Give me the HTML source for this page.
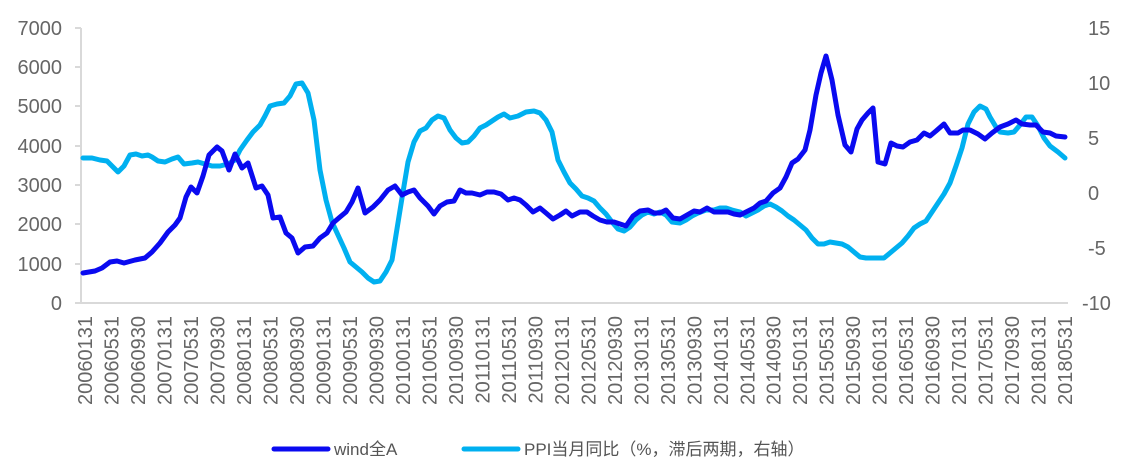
<!DOCTYPE html>
<html><head><meta charset="utf-8"><style>
html,body{margin:0;padding:0;background:#fff;}
svg{display:block;font-family:"Liberation Sans","Noto Sans CJK SC",sans-serif;}
</style></head><body>
<svg width="1122" height="465" viewBox="0 0 1122 465" xmlns="http://www.w3.org/2000/svg">
<g stroke="#d9d9d9" stroke-width="2" fill="none">
<line x1="81" y1="28" x2="81" y2="304"/>
<line x1="80" y1="303" x2="1068" y2="303"/>
<line x1="75" y1="28" x2="81" y2="28"/><line x1="75" y1="67" x2="81" y2="67"/><line x1="75" y1="106" x2="81" y2="106"/><line x1="75" y1="146" x2="81" y2="146"/><line x1="75" y1="185" x2="81" y2="185"/><line x1="75" y1="224" x2="81" y2="224"/><line x1="75" y1="264" x2="81" y2="264"/><line x1="75" y1="303" x2="81" y2="303"/>
</g>
<g fill="#666" font-size="20" text-anchor="end">
<text x="62" y="35">7000</text><text x="62" y="74">6000</text><text x="62" y="113">5000</text><text x="62" y="153">4000</text><text x="62" y="192">3000</text><text x="62" y="231">2000</text><text x="62" y="271">1000</text><text x="62" y="310">0</text>
</g>
<g fill="#666" font-size="20" text-anchor="start">
<text x="1088" y="35">15</text><text x="1088" y="90">10</text><text x="1088" y="145">5</text><text x="1088" y="200">0</text><text x="1088" y="255">-5</text><text x="1082" y="310">-10</text>
</g>
<g fill="#666" font-size="20" text-anchor="end">
<text transform="translate(92.0,316) rotate(-90)">20060131</text>
<text transform="translate(118.5,316) rotate(-90)">20060531</text>
<text transform="translate(145.0,316) rotate(-90)">20060930</text>
<text transform="translate(171.5,316) rotate(-90)">20070131</text>
<text transform="translate(198.0,316) rotate(-90)">20070531</text>
<text transform="translate(224.5,316) rotate(-90)">20070930</text>
<text transform="translate(250.9,316) rotate(-90)">20080131</text>
<text transform="translate(277.4,316) rotate(-90)">20080531</text>
<text transform="translate(303.9,316) rotate(-90)">20080930</text>
<text transform="translate(330.4,316) rotate(-90)">20090131</text>
<text transform="translate(356.9,316) rotate(-90)">20090531</text>
<text transform="translate(383.4,316) rotate(-90)">20090930</text>
<text transform="translate(409.9,316) rotate(-90)">20100131</text>
<text transform="translate(436.4,316) rotate(-90)">20100531</text>
<text transform="translate(462.9,316) rotate(-90)">20100930</text>
<text transform="translate(489.4,316) rotate(-90)">20110131</text>
<text transform="translate(515.8,316) rotate(-90)">20110531</text>
<text transform="translate(542.3,316) rotate(-90)">20110930</text>
<text transform="translate(568.8,316) rotate(-90)">20120131</text>
<text transform="translate(595.3,316) rotate(-90)">20120531</text>
<text transform="translate(621.8,316) rotate(-90)">20120930</text>
<text transform="translate(648.3,316) rotate(-90)">20130131</text>
<text transform="translate(674.8,316) rotate(-90)">20130531</text>
<text transform="translate(701.3,316) rotate(-90)">20130930</text>
<text transform="translate(727.8,316) rotate(-90)">20140131</text>
<text transform="translate(754.3,316) rotate(-90)">20140531</text>
<text transform="translate(780.7,316) rotate(-90)">20140930</text>
<text transform="translate(807.2,316) rotate(-90)">20150131</text>
<text transform="translate(833.7,316) rotate(-90)">20150531</text>
<text transform="translate(860.2,316) rotate(-90)">20150930</text>
<text transform="translate(886.7,316) rotate(-90)">20160131</text>
<text transform="translate(913.2,316) rotate(-90)">20160531</text>
<text transform="translate(939.7,316) rotate(-90)">20160930</text>
<text transform="translate(966.2,316) rotate(-90)">20170131</text>
<text transform="translate(992.7,316) rotate(-90)">20170531</text>
<text transform="translate(1019.2,316) rotate(-90)">20170930</text>
<text transform="translate(1045.6,316) rotate(-90)">20180131</text>
<text transform="translate(1072.1,316) rotate(-90)">20180531</text>
</g>
<polyline fill="none" stroke="#00b0f0" stroke-width="5" stroke-linejoin="round" stroke-linecap="round" points="83,158 92,158 100,160 107,161 113,167 118,172 124,166 130,155 136,154 142,156 148,155 152,157 158,161 165,162 172,159 178,157 184,164 192,163 198,162 205,164 212,166 220,166 228,164 235,160 240,150 247,140 253,132 260,125 265,116 270,106 277,104 284,103 290,96 296,84 302,83 308,93 314,120 320,170 326,200 332,222 338,235 344,248 350,262 356,267 362,272 368,278 374,282 380,281 386,272 392,260 396,235 402,198 408,162 414,142 420,131 426,128 432,120 438,116 444,118 450,130 456,138 462,143 468,142 474,136 480,128 486,125 492,121 498,117 504,114 510,118 518,116 526,112 534,111 540,113 546,120 552,132 558,160 564,172 570,183 576,189 582,196 588,198 594,201 600,208 606,214 612,222 618,229 624,231 630,227 636,220 642,215 648,212 654,214 660,212 666,215 672,222 680,223 686,220 692,216 698,213 706,210 714,210 720,208 726,208 732,210 740,212 746,216 752,213 758,210 764,206 770,204 776,207 782,211 788,216 794,220 800,225 806,230 812,238 818,244 824,244 830,242 836,243 842,244 848,247 854,252 860,257 866,258 872,258 878,258 884,258 890,253 896,248 902,243 908,236 914,228 920,224 926,221 932,212 938,203 944,194 950,183 956,166 962,148 968,124 974,112 980,106 986,109 990,117 996,127 1000,132 1008,133 1014,132 1020,125 1026,117 1032,117 1038,126 1044,138 1050,146 1058,152 1065,158"/>
<polyline fill="none" stroke="#0a0af0" stroke-width="5" stroke-linejoin="round" stroke-linecap="round" points="83,273 95,271 102,268 110,262 117,261 124,263 135,260 145,258 152,252 160,243 168,232 175,225 180,218 186,197 191,187 197,193 203,176 209,155 217,147 222,151 229,170 235,154 242,168 248,163 256,188 262,186 268,195 273,218 280,217 286,233 292,238 298,253 305,247 313,246 320,238 327,233 333,223 340,217 346,212 352,202 358,188 365,213 373,207 380,200 388,190 395,186 402,195 408,192 414,190 420,198 428,206 434,214 440,206 447,202 454,201 460,190 466,193 472,193 480,195 487,192 494,192 501,194 508,200 514,198 520,200 526,205 533,212 540,208 546,213 553,219 560,215 566,211 572,216 580,212 587,212 593,216 600,220 607,222 614,222 620,224 626,226 633,216 640,211 648,210 654,213 660,213 666,210 673,218 680,219 687,215 694,211 700,212 707,208 714,212 720,212 728,212 734,214 740,215 748,211 754,208 760,203 766,201 773,193 780,188 786,177 792,163 798,159 805,150 810,130 816,95 821,73 826,56 832,80 838,115 845,145 851,152 857,129 862,120 868,113 873,108 878,162 885,164 891,143 897,146 903,147 910,142 917,140 924,133 930,136 936,131 944,124 950,133 958,133 963,130 970,130 978,134 985,139 992,133 1000,127 1008,124 1016,120 1022,124 1030,125 1036,125 1043,132 1050,133 1056,136 1065,137"/>
<line x1="274" y1="449" x2="328" y2="449" stroke="#0a0af0" stroke-width="5" stroke-linecap="round"/>
<text x="334" y="455" fill="#555" font-size="17">wind全A</text>
<line x1="464" y1="449" x2="518" y2="449" stroke="#00b0f0" stroke-width="5" stroke-linecap="round"/>
<text x="524" y="455" fill="#555" font-size="17">PPI当月同比（%，滞后两期，右轴）</text>
</svg>
</body></html>
